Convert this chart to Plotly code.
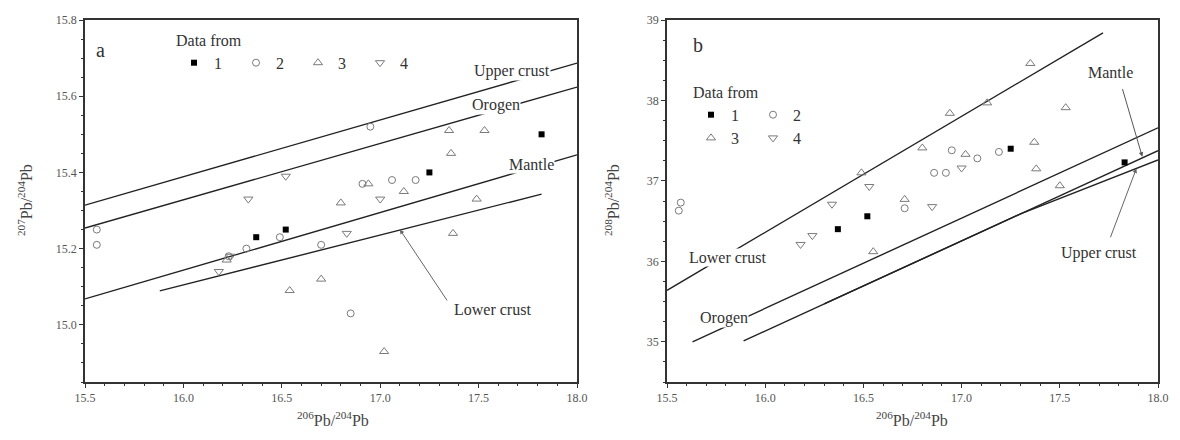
import plotly.graph_objects as go
from plotly.subplots import make_subplots

# ---------------- data: panel a (207Pb/204Pb vs 206Pb/204Pb) ----------------
a1_x = [16.37, 16.52, 17.25, 17.82]
a1_y = [15.23, 15.25, 15.40, 15.50]
a2_x = [15.56, 15.56, 16.23, 16.32, 16.49, 16.70, 16.85, 16.91, 16.95, 17.06, 17.18]
a2_y = [15.25, 15.21, 15.18, 15.20, 15.23, 15.21, 15.03, 15.37, 15.52, 15.38, 15.38]
a3_x = [16.22, 16.54, 16.70, 16.80, 16.94, 17.02, 17.12, 17.35, 17.36, 17.37, 17.49, 17.53]
a3_y = [15.17, 15.09, 15.12, 15.32, 15.37, 14.93, 15.35, 15.51, 15.45, 15.24, 15.33, 15.51]
a4_x = [16.18, 16.24, 16.33, 16.52, 16.83, 17.00]
a4_y = [15.14, 15.18, 15.33, 15.39, 15.24, 15.33]

# evolution curves, panel a
uc_a_x = [15.5, 18.0]
uc_a_y = [15.314, 15.687]
or_a_x = [15.5, 18.0]
or_a_y = [15.254, 15.624]
ma_a_x = [15.5, 18.0]
ma_a_y = [15.068, 15.446]
lc_a_x = [15.88, 17.82]
lc_a_y = [15.089, 15.343]

# ---------------- data: panel b (208Pb/204Pb vs 206Pb/204Pb) ----------------
b1_x = [16.37, 16.52, 17.25, 17.83]
b1_y = [36.40, 36.56, 37.40, 37.23]
b2_x = [15.56, 15.57, 16.71, 16.86, 16.92, 16.95, 17.08, 17.19]
b2_y = [36.63, 36.73, 36.66, 37.10, 37.10, 37.38, 37.28, 37.36]
b3_x = [16.49, 16.55, 16.71, 16.80, 16.94, 17.02, 17.13, 17.35, 17.37, 17.38, 17.50, 17.53]
b3_y = [37.10, 36.12, 36.77, 37.41, 37.84, 37.33, 37.97, 38.46, 37.48, 37.15, 36.94, 37.91]
b4_x = [16.18, 16.24, 16.34, 16.53, 16.85, 17.00]
b4_y = [36.21, 36.32, 36.71, 36.93, 36.68, 37.16]

lc_b_x = [15.5, 17.72]
lc_b_y = [35.64, 38.84]
or_b_x = [15.63, 18.0]
or_b_y = [35.0, 37.66]
ma_b_x = [15.89, 18.0]
ma_b_y = [35.01, 37.375]
uc_b_x = [16.3, 17.3, 18.0]
uc_b_y = [35.47, 36.59, 37.26]

series_names = ["1", "2", "3", "4"]
x_ticks = [15.5, 16.0, 16.5, 17.0, 17.5, 18.0]
ya_ticks = [15.0, 15.2, 15.4, 15.6, 15.8]
yb_ticks = [35, 36, 37, 38, 39]

SERIF = "Liberation Serif, Times New Roman, serif"
GRAY = "#7a7a7a"

# page body has an 8px margin: map reference pixel positions to paper fractions
FW, FH = 1164, 424
def px2x(X):
    return (X - 8) / FW
def px2y(Y):
    return 1 - (Y - 8) / FH

fig = make_subplots(rows=1, cols=2, horizontal_spacing=0.05)

styles = [
    dict(symbol="square", size=6, color="black", line=dict(width=0)),
    dict(symbol="circle-open", size=7, color=GRAY, line=dict(width=1)),
    dict(symbol="triangle-up-open", size=8, color=GRAY, line=dict(width=1)),
    dict(symbol="triangle-down-open", size=8, color=GRAY, line=dict(width=1)),
]

a_sets = [(a1_x, a1_y), (a2_x, a2_y), (a3_x, a3_y), (a4_x, a4_y)]
b_sets = [(b1_x, b1_y), (b2_x, b2_y), (b3_x, b3_y), (b4_x, b4_y)]

line_style = dict(color="#222222", width=1.4)
for lx, ly in [(uc_a_x, uc_a_y), (or_a_x, or_a_y), (ma_a_x, ma_a_y), (lc_a_x, lc_a_y)]:
    fig.add_trace(go.Scatter(x=lx, y=ly, mode="lines", line=line_style,
                             showlegend=False, hoverinfo="skip"), row=1, col=1)
for lx, ly in [(lc_b_x, lc_b_y), (or_b_x, or_b_y), (ma_b_x, ma_b_y), (uc_b_x, uc_b_y)]:
    fig.add_trace(go.Scatter(x=lx, y=ly, mode="lines", line=line_style,
                             showlegend=False, hoverinfo="skip"), row=1, col=2)

for i, (sx, sy) in enumerate(a_sets):
    fig.add_trace(go.Scatter(x=sx, y=sy, mode="markers", name=series_names[i],
                             marker=styles[i], legend="legend"), row=1, col=1)
for i, (sx, sy) in enumerate(b_sets):
    fig.add_trace(go.Scatter(x=sx, y=sy, mode="markers", name=series_names[i],
                             marker=styles[i],
                             legend="legend2" if i < 2 else "legend3"), row=1, col=2)

axis_common = dict(showline=True, linecolor="#333333", linewidth=1.5, mirror=True,
                   showgrid=False, zeroline=False, ticks="outside", ticklen=4,
                   tickcolor="#333333", automargin=False,
                   tickfont=dict(family=SERIF, size=12, color="#555555"))

fig.update_xaxes(range=[15.5, 18.0], tickvals=x_ticks, ticktext=[f"{v:.1f}" for v in x_ticks],
                 minor=dict(dtick=0.1, ticks="outside", ticklen=2, tickcolor="#333333"),
                 **axis_common)
fig.update_xaxes(domain=[px2x(85), px2x(577)], row=1, col=1)
fig.update_xaxes(domain=[px2x(667), px2x(1158)], row=1, col=2)
fig.update_yaxes(domain=[px2y(382), px2y(20)], **axis_common)
fig.update_yaxes(range=[14.85, 15.8], tickvals=ya_ticks, ticktext=[f"{v:.1f}" for v in ya_ticks],
                 minor=dict(dtick=0.05, tick0=14.85, ticks="outside", ticklen=2, tickcolor="#333333"),
                 row=1, col=1)
fig.update_yaxes(range=[34.5, 39], tickvals=yb_ticks, ticktext=[str(v) for v in yb_ticks],
                 minor=dict(dtick=0.25, tick0=34.5, ticks="outside", ticklen=2, tickcolor="#333333"),
                 row=1, col=2)

ann = []
def label(text, x, y, xref, yref, size=16, bg="white"):
    ann.append(dict(text=text, x=x, y=y, xref=xref, yref=yref, showarrow=False,
                    font=dict(family=SERIF, size=size, color="#333333"),
                    bgcolor=bg, borderpad=0))

# panel a labels
label("a", 15.58, 15.72, "x", "y", size=20, bg="rgba(0,0,0,0)")
label("Upper crust", 17.67, 15.665, "x", "y")
label("Orogen", 17.59, 15.577, "x", "y")
label("Mantle", 17.77, 15.42, "x", "y")
label("Lower crust", 17.57, 15.04, "x", "y", bg="rgba(0,0,0,0)")
ann.append(dict(x=17.10, y=15.25, ax=17.345, ay=15.06, xref="x", yref="y", axref="x", ayref="y",
                showarrow=True, arrowhead=2, arrowsize=0.9, arrowwidth=1, arrowcolor="#666666", text=""))

# panel b labels
label("b", 15.66, 38.69, "x2", "y2", size=20, bg="rgba(0,0,0,0)")
label("Lower crust", 15.81, 36.05, "x2", "y2")
label("Orogen", 15.79, 35.29, "x2", "y2")
label("Mantle", 17.76, 38.35, "x2", "y2", bg="rgba(0,0,0,0)")
label("Upper crust", 17.70, 36.10, "x2", "y2", bg="rgba(0,0,0,0)")
ann.append(dict(x=17.92, y=37.30, ax=17.817, ay=38.16, xref="x2", yref="y2", axref="x2", ayref="y2",
                showarrow=True, arrowhead=2, arrowsize=0.9, arrowwidth=1, arrowcolor="#555555", text=""))
ann.append(dict(x=17.89, y=37.155, ax=17.755, ay=36.28, xref="x2", yref="y2", axref="x2", ayref="y2",
                showarrow=True, arrowhead=2, arrowsize=0.9, arrowwidth=1, arrowcolor="#666666", text=""))

# axis titles
title_font = dict(family=SERIF, size=16, color="#444444")
ann.append(dict(text="<sup>207</sup>Pb/<sup>204</sup>Pb", x=px2x(25), y=px2y(200), xref="paper",
                yref="paper", xanchor="center", yanchor="middle",
                textangle=-90, showarrow=False, font=title_font))
ann.append(dict(text="<sup>208</sup>Pb/<sup>204</sup>Pb", x=px2x(612), y=px2y(200), xref="paper",
                yref="paper", xanchor="center", yanchor="middle",
                textangle=-90, showarrow=False, font=title_font))
ann.append(dict(text="<sup>206</sup>Pb/<sup>204</sup>Pb", x=px2x(333), y=px2y(419), xref="paper",
                yref="paper", xanchor="center", yanchor="middle", showarrow=False, font=title_font))
ann.append(dict(text="<sup>206</sup>Pb/<sup>204</sup>Pb", x=px2x(912), y=px2y(419), xref="paper",
                yref="paper", xanchor="center", yanchor="middle", showarrow=False, font=title_font))

leg_font = dict(family=SERIF, size=16, color="#333333")
fig.update_layout(
    width=FW, height=FH,
    margin=dict(l=0, r=0, t=0, b=0, autoexpand=False),
    paper_bgcolor="white", plot_bgcolor="white",
    annotations=ann,
    legend=dict(title=dict(text="Data from", side="top", font=leg_font), orientation="h",
                x=px2x(174), y=px2y(25), xanchor="left", yanchor="top",
                bgcolor="rgba(0,0,0,0)", font=leg_font, entrywidth=17, tracegroupgap=0),
    legend2=dict(title=dict(text="Data from", side="top", font=leg_font), orientation="h",
                 x=px2x(691), y=px2y(77), xanchor="left", yanchor="top",
                 bgcolor="rgba(0,0,0,0)", font=leg_font, entrywidth=17),
    legend3=dict(orientation="h", x=px2x(691), y=px2y(121), xanchor="left", yanchor="top",
                 bgcolor="rgba(0,0,0,0)", font=leg_font, entrywidth=17),
    font=dict(family=SERIF),
)

fig.write_html("out.html")
